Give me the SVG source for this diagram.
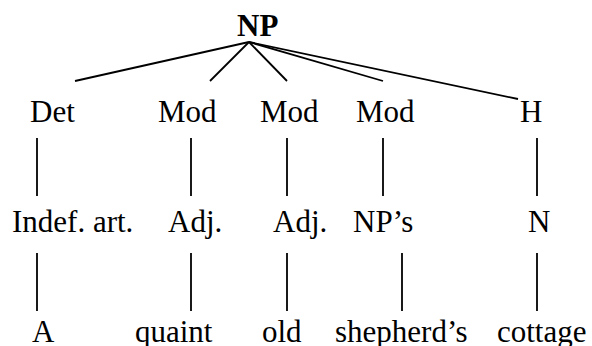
<svg xmlns="http://www.w3.org/2000/svg" width="592" height="346" viewBox="0 0 592 346">
<style>
text{font-family:"Liberation Serif","Times New Roman",serif;font-size:31px;fill:#000}
.b{font-weight:bold}
line{stroke:#000;stroke-width:1.8}
</style>
<rect width="592" height="346" fill="#fff"/>
<g id="connectors">
<line x1="249" y1="42" x2="75" y2="81"/>
<line x1="249" y1="42" x2="210" y2="81"/>
<line x1="249" y1="42" x2="287" y2="81"/>
<line x1="249" y1="42" x2="383" y2="81"/>
<line x1="249" y1="42" x2="518" y2="99"/>
<line x1="37" y1="138" x2="37" y2="196"/>
<line x1="191" y1="138" x2="191" y2="196"/>
<line x1="287" y1="138" x2="287" y2="196"/>
<line x1="383" y1="138" x2="383" y2="196"/>
<line x1="537" y1="138" x2="537" y2="196"/>
<line x1="37" y1="253" x2="37" y2="311"/>
<line x1="191" y1="253" x2="191" y2="311"/>
<line x1="287" y1="253" x2="287" y2="311"/>
<line x1="402" y1="253" x2="402" y2="311"/>
<line x1="537" y1="253" x2="537" y2="311"/>
</g>
<g id="NP"><text class="b" x="237" y="36">NP</text></g>
<g id="Det"><text x="30" y="122">Det</text></g>
<g id="Mod1"><text x="158" y="122">Mod</text></g>
<g id="Mod2"><text x="260" y="122">Mod</text></g>
<g id="Mod3"><text x="356" y="122">Mod</text></g>
<g id="H"><text x="520" y="122">H</text></g>
<g id="IndefArt"><text x="12" y="232">Indef. art.</text></g>
<g id="Adj1"><text x="168" y="232">Adj.</text></g>
<g id="Adj2"><text x="273" y="232">Adj.</text></g>
<g id="NPs"><text x="353" y="232">NP’s</text></g>
<g id="N"><text x="528" y="232">N</text></g>
<g id="A"><text x="32" y="342">A</text></g>
<g id="quaint"><text x="135" y="342">quaint</text></g>
<g id="old"><text x="262" y="342">old</text></g>
<g id="shepherds"><text x="335" y="342">shepherd’s</text></g>
<g id="cottage"><text x="497" y="342">cottage</text></g>
</svg>
